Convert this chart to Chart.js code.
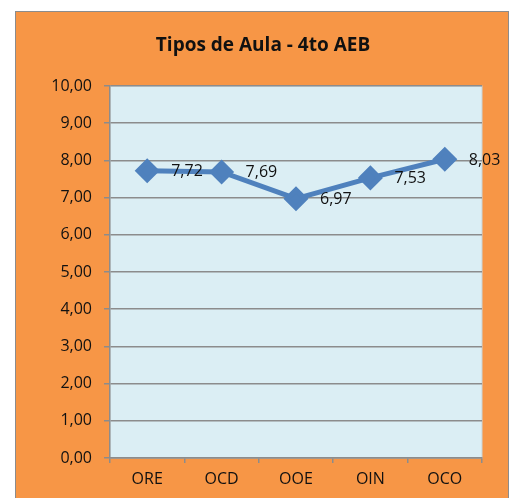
<!DOCTYPE html>
<html>
<head>
<meta charset="utf-8">
<script src="https://cdn.jsdelivr.net/npm/chart.js@4"></script>
<style>
  html, body { margin: 0; padding: 0; background: #ffffff; }
  #frame {
    position: absolute; left: 15px; top: 11px; width: 494px; height: 500px;
    background: #F79646; border: 1.5px solid #8c8c8c; box-sizing: border-box;
  }
  #wrap { position: absolute; left: 0; top: 0; width: 511px; height: 498px; }
</style>
</head>
<body>
<div id="frame"></div>
<div id="wrap"><canvas id="chart" width="511" height="498"></canvas></div>
<script>
const categories = ['ORE', 'OCD', 'OOE', 'OIN', 'OCO'];
const values = [7.72, 7.69, 6.97, 7.53, 8.03];
const chartTitle = 'Tipos de Aula - 4to AEB';

const fmt = v => v.toFixed(2).replace('.', ',');
const FONT = '"Open Sans", Lato, sans-serif';

// light blue plot background and title
const backdrop = {
    id: 'backdrop',
    beforeDraw(chart) {
        const { ctx, chartArea: a } = chart;
        ctx.save();
        ctx.fillStyle = '#DBEEF4';
        ctx.fillRect(a.left, a.top, a.right - a.left, a.bottom - a.top);
        ctx.strokeStyle = '#c8d4d8';
        ctx.lineWidth = 1;
        ctx.strokeRect(a.left, a.top, a.right - a.left, a.bottom - a.top);
        ctx.fillStyle = '#111111';
        ctx.font = 'bold 19px ' + FONT;
        ctx.textAlign = 'center';
        ctx.textBaseline = 'middle';
        ctx.fillText(chartTitle, 263, 46);
        ctx.restore();
    }
};

// value labels to the right of each marker
const valueLabels = {
    id: 'valueLabels',
    afterDatasetsDraw(chart) {
        const { ctx } = chart;
        const meta = chart.getDatasetMeta(0);
        ctx.save();
        ctx.font = '16px ' + FONT;
        ctx.fillStyle = '#111111';
        ctx.textAlign = 'left';
        ctx.textBaseline = 'middle';
        meta.data.forEach((pt, i) => {
            ctx.fillText(fmt(values[i]), pt.x + 24, pt.y + 1);
        });
        ctx.restore();
    }
};

new Chart(document.getElementById('chart').getContext('2d'), {
    type: 'line',
    data: {
        labels: categories,
        datasets: [{
            data: values,
            borderColor: '#4F81BD',
            backgroundColor: '#4F81BD',
            borderWidth: 5,
            tension: 0,
            pointStyle: 'rectRot',
            pointRadius: 9,
            pointHoverRadius: 9,
            clip: false
        }]
    },
    options: {
        responsive: false,
        animation: false,
        events: [],
        layout: { padding: { top: 86, right: 29, bottom: 0, left: 0 } },
        plugins: {
            legend: { display: false },
            title: { display: false },
            tooltip: { enabled: false }
        },
        scales: {
            x: {
                type: 'category',
                offset: true,
                grid: {
                    offset: true,
                    drawOnChartArea: false,
                    drawTicks: true,
                    tickLength: 5,
                    color: '#8c8c8c',
                    lineWidth: 1.5
                },
                border: { color: '#8c8c8c', width: 1.5 },
                ticks: {
                    color: '#111111',
                    font: { family: FONT, size: 16 },
                    padding: 7,
                    maxRotation: 0
                },
                afterFit(scale) { scale.height = 40; }
            },
            y: {
                min: 0,
                max: 10,
                grid: {
                    color: '#8c8c8c',
                    lineWidth: 1.5,
                    drawTicks: true,
                    tickLength: 6
                },
                border: { color: '#8c8c8c', width: 1.5 },
                ticks: {
                    stepSize: 1,
                    color: '#111111',
                    font: { family: FONT, size: 16 },
                    padding: 12,
                    callback: v => fmt(v)
                },
                afterFit(scale) { scale.width = 110; }
            }
        }
    },
    plugins: [backdrop, valueLabels]
});
</script>
</body>
</html>
